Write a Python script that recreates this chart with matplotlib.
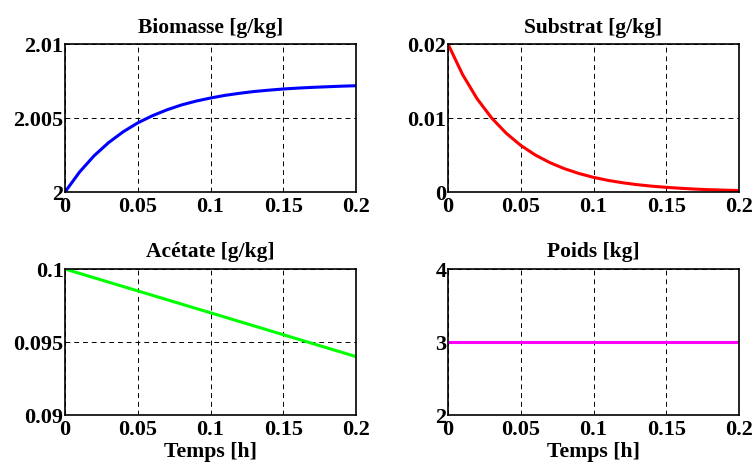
import matplotlib.pyplot as plt

# temps [h]
t = [0.00, 0.01, 0.02, 0.03, 0.04, 0.05, 0.06, 0.07, 0.08, 0.09, 0.10,
     0.11, 0.12, 0.13, 0.14, 0.15, 0.16, 0.17, 0.18, 0.19, 0.20]

biomasse = [2.0, 2.00135, 2.00245, 2.00334, 2.00407, 2.00467, 2.00515, 2.00555,
            2.00588, 2.00614, 2.00635, 2.00653, 2.00667, 2.00679, 2.00688,
            2.00696, 2.00702, 2.00707, 2.00711, 2.00715, 2.00718]

substrat = [0.0200, 0.01588, 0.0126, 0.0100, 0.00794, 0.0063, 0.0050, 0.00397,
            0.00315, 0.0025, 0.00198, 0.00157, 0.00125, 0.00099, 0.00079,
            0.00063, 0.0005, 0.00039, 0.00031, 0.00025, 0.0002]

t_ac = [0.0, 0.05, 0.1, 0.15, 0.2]
acetate = [0.1, 0.0985, 0.097, 0.0955, 0.094]

t_poids = [0.0, 0.2]
poids = [3.0, 3.0]

xticks = [0, 0.05, 0.1, 0.15, 0.2]
xticklabels = ['0', '0.05', '0.1', '0.15', '0.2']

plt.rcParams['font.family'] = 'Liberation Serif'
plt.rcParams['font.weight'] = 'bold'
plt.rcParams['font.size'] = 16

fig = plt.figure(figsize=(7.52, 4.64), dpi=100)
W, H = 752.0, 464.0

def make_axes(x0, y0, x1, y1):
    return fig.add_axes([x0 / W, 1 - y1 / H, (x1 - x0) / W, (y1 - y0) / H])

panels = [
    (make_axes(65, 45, 356, 193), t, biomasse, 'blue', 'Biomasse [g/kg]',
     (2.0, 2.01), [2.0, 2.005, 2.01], ['2', '2.005', '2.01'], False),
    (make_axes(448, 45, 739, 193), t, substrat, 'red', 'Substrat [g/kg]',
     (0.0, 0.02), [0.0, 0.01, 0.02], ['0', '0.01', '0.02'], False),
    (make_axes(65, 270, 356, 416), t_ac, acetate, '#00ff00', 'Acétate [g/kg]',
     (0.09, 0.1), [0.09, 0.095, 0.1], ['0.09', '0.095', '0.1'], True),
    (make_axes(448, 270, 739, 416), t_poids, poids, 'magenta', 'Poids [kg]',
     (2.0, 4.0), [2, 3, 4], ['2', '3', '4'], True),
]

for ax, x, y, color, title, ylim, yticks, yticklabels, xlabel in panels:
    ax.plot(x, y, color=color, linewidth=2.2)
    ax.set_xlim(0, 0.2)
    ax.set_ylim(*ylim)
    ax.set_xticks(xticks)
    ax.set_xticklabels(xticklabels)
    ax.set_yticks(yticks)
    ax.set_yticklabels(yticklabels)
    ax.grid(True, color='black', linestyle=(0, (5, 4)), linewidth=0.7)
    ax.tick_params(direction='in', length=0, labelsize=16)
    ax.tick_params(axis='x', pad=3)
    ax.tick_params(axis='y', pad=1)
    for s in ax.spines.values():
        s.set_linewidth(1.2)
    ax.set_title(title, fontweight='bold', fontsize=15.5, pad=9)
    if xlabel:
        ax.set_xlabel('Temps [h]', fontweight='bold', fontsize=15.7, labelpad=1.5)

fig.savefig('out.png', dpi=100)
